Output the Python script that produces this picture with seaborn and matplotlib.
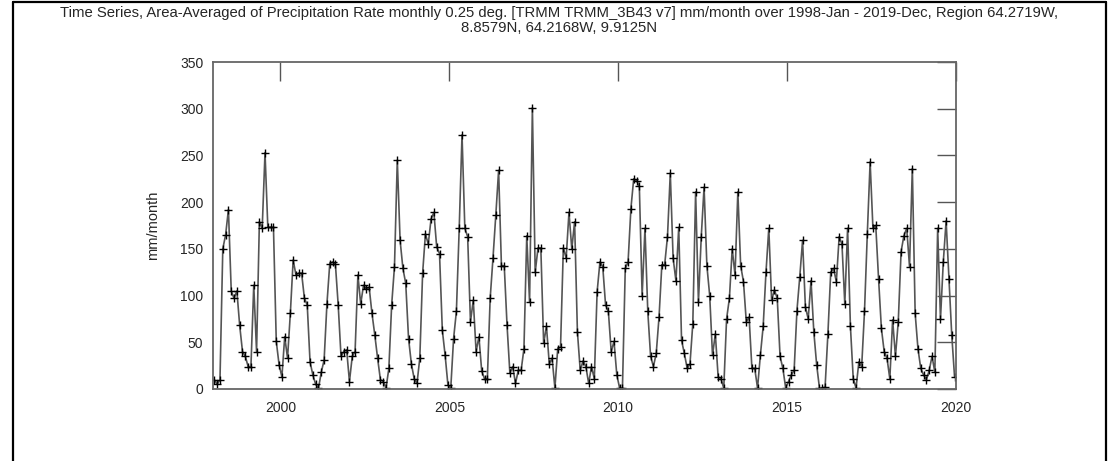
import numpy as np
import pandas as pd
import matplotlib
matplotlib.use("Agg")
import matplotlib.pyplot as plt
import seaborn as sns
from matplotlib.lines import Line2D

# --- Data (mm/month) ---
YEARS = list(range(1998, 2020))

P_1998 = [10, 5, 10, 150, 165, 192, 105, 97, 105, 68, 40, 35]
P_1999 = [24, 24, 111, 40, 179, 172, 253, 173, 173, 173, 51, 26]
P_2000 = [13, 56, 33, 81, 138, 122, 124, 124, 97, 90, 29, 15]
P_2001 = [5, 1, 18, 31, 91, 134, 136, 134, 90, 35, 40, 42]
P_2002 = [8, 35, 40, 122, 91, 111, 107, 109, 81, 58, 33, 10]
P_2003 = [8, 1, 22, 90, 131, 245, 159, 129, 113, 54, 27, 11]
P_2004 = [6, 33, 124, 166, 155, 182, 189, 152, 145, 63, 36, 4]
P_2005 = [1, 54, 83, 172, 272, 172, 163, 72, 95, 40, 56, 19]
P_2006 = [11, 11, 97, 140, 186, 234, 132, 132, 68, 17, 24, 6]
P_2007 = [20, 20, 43, 164, 93, 301, 125, 151, 151, 49, 67, 27]
P_2008 = [33, 1, 43, 45, 151, 140, 189, 150, 179, 61, 20, 30]
P_2009 = [24, 6, 24, 11, 104, 136, 131, 90, 83, 40, 51, 15]
P_2010 = [1, 1, 129, 136, 193, 225, 223, 217, 100, 172, 83, 35]
P_2011 = [24, 38, 77, 133, 133, 163, 231, 140, 116, 173, 52, 38]
P_2012 = [22, 27, 70, 211, 93, 163, 216, 132, 100, 36, 59, 13]
P_2013 = [11, 1, 75, 97, 150, 122, 211, 132, 115, 72, 77, 22]
P_2014 = [22, 1, 36, 67, 125, 172, 95, 106, 97, 35, 22, 1]
P_2015 = [8, 15, 20, 84, 120, 159, 88, 75, 116, 61, 26, 1]
P_2016 = [1, 2, 59, 125, 129, 115, 163, 155, 91, 172, 67, 11]
P_2017 = [1, 29, 24, 83, 166, 243, 172, 175, 118, 65, 40, 33]
P_2018 = [11, 74, 35, 72, 147, 164, 172, 131, 236, 81, 43, 22]
P_2019 = [15, 10, 20, 35, 18, 172, 75, 136, 180, 118, 58, 13]

X_TICKS = [2000, 2005, 2010, 2015, 2020]
Y_TICKS = [0, 50, 100, 150, 200, 250, 300, 350]

TITLE = ("Time Series, Area-Averaged of Precipitation Rate monthly 0.25 deg. "
         "[TRMM TRMM_3B43 v7] mm/month over 1998-Jan - 2019-Dec, Region 64.2719W,\n"
         "8.8579N, 64.2168W, 9.9125N")


def build_dataframe():
    """Stack the yearly lists into one monthly series."""
    values = (P_1998 + P_1999 + P_2000 + P_2001 + P_2002 + P_2003 + P_2004 +
              P_2005 + P_2006 + P_2007 + P_2008 + P_2009 + P_2010 + P_2011 +
              P_2012 + P_2013 + P_2014 + P_2015 + P_2016 + P_2017 + P_2018 +
              P_2019)
    t = [y + (m + 0.5) / 12 for y in YEARS for m in range(12)]
    return pd.DataFrame({"time": t, "precip": values})


def main():
    df = build_dataframe()

    sns.set_theme(style="white")
    plt.rcParams['font.family'] = ['Liberation Sans', 'DejaVu Sans']

    fig = plt.figure(figsize=(11.19, 4.61), dpi=100)
    ax = fig.add_axes([0.1903, 0.1562, 0.664, 0.7093])

    sns.lineplot(data=df, x="time", y="precip", ax=ax, color="#555555",
                 linewidth=1.2, marker="+", markersize=6,
                 markeredgecolor="black", markeredgewidth=1.0)

    ax.set_xlim(1998, 2020)
    ax.set_ylim(0, 350)
    ax.set_xticks(X_TICKS)
    ax.set_yticks(Y_TICKS)
    ax.set_xlabel("")
    ax.set_ylabel("mm/month", fontsize=10.5, labelpad=14)
    ax.tick_params(direction="in", length=14, width=1.0, color="#555555",
                   top=True, right=True, labelsize=10)
    ax.tick_params(axis="x", pad=9)
    ax.tick_params(axis="y", pad=7)
    for s in ax.spines.values():
        s.set_color("#666666")
        s.set_linewidth(1.3)

    fig.text(0.5, 0.988, TITLE, ha="center", va="top", fontsize=10.7,
             family=['Liberation Sans Narrow', 'Liberation Sans', 'DejaVu Sans'],
             linespacing=1.1)

    # outer frame (left, top, right)
    frame = dict(color="black", linewidth=1.6, transform=fig.transFigure)
    fig.add_artist(Line2D([0.0116, 0.0116], [0.0, 0.995], **frame))
    fig.add_artist(Line2D([0.0116, 0.988], [0.995, 0.995], **frame))
    fig.add_artist(Line2D([0.988, 0.988], [0.0, 0.995], **frame))

    fig.savefig("out.png", dpi=100)
    plt.close(fig)


if __name__ == "__main__":
    main()
